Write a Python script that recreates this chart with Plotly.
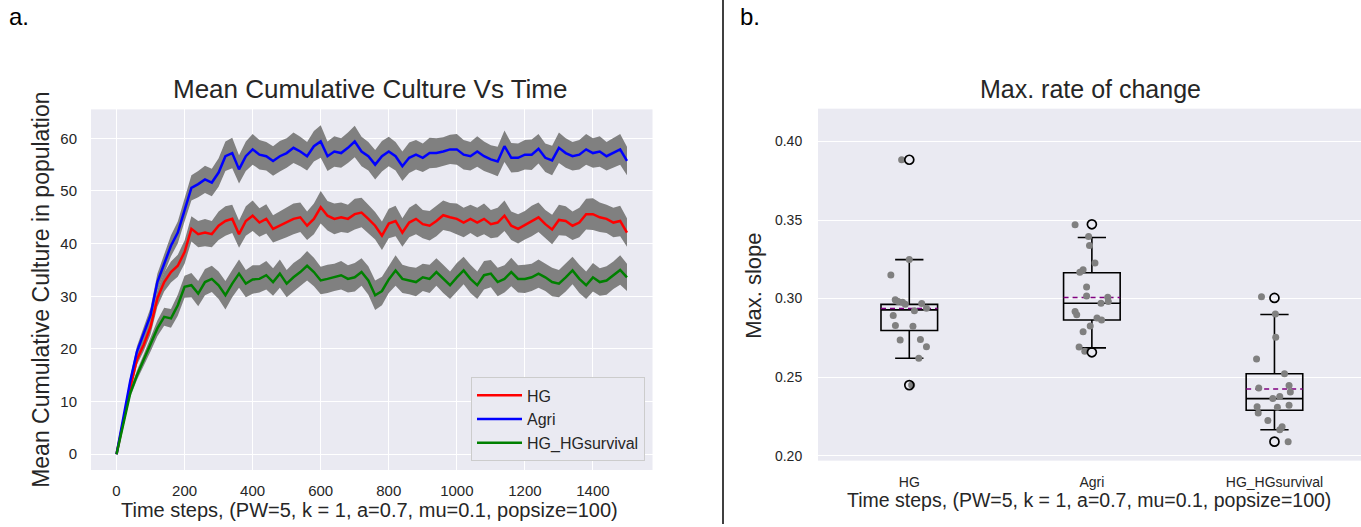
import plotly.graph_objects as go

# ---------------- data: left panel ----------------
time_steps = list(range(0, 1501, 20))

hg_mean = [0, 6.5, 12.5, 18.0, 20.8, 24.2, 29.6, 32.7, 34.6, 35.8, 38.4, 42.8, 41.8, 42.1, 41.8, 43.4,
           44.3, 44.7, 41.8, 44.3, 45.3, 44.0, 44.7, 42.8, 43.4, 44.0, 44.7, 45.0, 43.4, 44.7, 46.9,
           45.3, 44.7, 45.0, 44.7, 45.6, 45.9, 44.7, 43.4, 41.5, 43.8, 44.3, 42.1, 44.0, 44.7, 43.7,
           43.4, 44.3, 45.4, 45.0, 44.7, 44.0, 44.7, 44.0, 44.7, 43.7, 44.0, 45.3, 43.4, 42.8, 43.5,
           44.3, 45.0, 43.7, 42.7, 44.5, 44.3, 43.4, 44.0, 45.6, 45.6, 45.0, 44.7, 44.0, 44.3, 42.1]
agri_mean = [0, 6.9, 13.8, 19.5, 23.0, 26.4, 32.7, 36.2, 39.6, 42.1, 46.5, 50.6, 51.3, 52.2, 51.6, 53.5,
             56.6, 57.2, 54.1, 56.6, 57.9, 56.9, 56.6, 55.7, 56.6, 57.2, 58.2, 57.5, 56.6, 58.5, 59.4,
             56.6, 57.5, 57.2, 58.2, 59.4, 57.5, 56.6, 55.0, 56.6, 57.5, 56.6, 54.7, 56.3, 56.9, 56.3,
             57.2, 57.2, 57.5, 57.9, 57.9, 56.9, 56.6, 57.5, 56.6, 56.0, 55.6, 58.5, 56.3, 56.3, 56.9,
             56.9, 58.0, 56.3, 55.8, 58.2, 57.2, 56.6, 56.9, 57.9, 57.2, 57.5, 56.6, 57.2, 57.9, 55.7]
hgs_mean = [0, 6.0, 11.5, 15.0, 17.9, 20.8, 23.9, 26.1, 25.8, 28.3, 31.8, 32.1, 30.5, 32.7, 33.3, 32.1,
            30.2, 32.4, 34.3, 32.4, 33.2, 33.3, 34.0, 32.7, 34.3, 32.4, 33.6, 34.6, 35.8, 34.6, 33.0,
            33.3, 33.6, 34.0, 33.3, 33.6, 34.6, 33.0, 30.2, 31.0, 33.2, 34.9, 33.3, 33.0, 32.7, 33.6,
            33.3, 34.6, 33.3, 32.1, 33.6, 34.9, 33.3, 32.1, 34.0, 34.3, 32.7, 33.3, 34.6, 33.3, 33.3,
            33.6, 34.3, 33.6, 32.7, 32.4, 33.6, 34.9, 33.3, 32.1, 33.6, 32.7, 33.0, 34.0, 35.0, 33.6]

hg_err = [0, 0.5, 0.8, 1.0, 1.2, 1.4, 1.6, 1.8, 2.0, 2.1, 2.2, 2.4, 2.5, 2.6, 2.5, 2.7,
          2.8, 2.7, 2.6, 2.8, 2.9, 2.7, 2.8, 2.6, 2.7, 2.8, 2.9, 2.8, 2.7, 2.9, 3.1,
          2.8, 2.9, 2.8, 2.7, 2.9, 2.8, 2.7, 2.6, 2.7, 2.8, 2.9, 2.7, 2.8, 2.9, 2.7,
          2.8, 2.9, 2.8, 2.7, 2.9, 2.8, 2.7, 2.8, 2.9, 2.7, 2.8, 2.9, 2.7, 2.8, 2.7,
          2.9, 2.8, 2.7, 2.8, 2.9, 2.8, 2.7, 2.8, 2.9, 3.0, 2.8, 2.7, 2.8, 2.9, 2.7]
agri_err = [0, 0.5, 0.8, 1.0, 1.2, 1.4, 1.6, 1.8, 2.0, 2.1, 2.3, 2.4, 2.5, 2.6, 2.6, 2.7,
            2.8, 2.9, 2.7, 2.8, 2.9, 2.8, 2.7, 2.8, 2.9, 2.8, 2.9, 2.8, 2.7, 2.9, 3.1,
            2.8, 2.9, 2.8, 2.9, 3.0, 2.8, 2.7, 2.8, 2.9, 2.8, 2.7, 2.8, 2.9, 2.8, 2.7,
            2.9, 2.8, 2.7, 2.8, 2.9, 2.8, 2.7, 2.9, 2.8, 2.7, 2.8, 3.0, 2.8, 2.7, 2.8,
            2.9, 2.8, 2.7, 2.8, 2.9, 2.8, 2.7, 2.8, 2.9, 2.8, 2.9, 2.7, 2.8, 2.9, 2.7]
hgs_err = [0, 0.5, 0.7, 0.9, 1.1, 1.3, 1.5, 1.7, 1.8, 2.0, 2.1, 2.3, 2.4, 2.5, 2.5, 2.6,
           2.7, 2.6, 2.7, 2.6, 2.7, 2.6, 2.7, 2.6, 2.7, 2.6, 2.7, 2.6, 2.8, 2.7, 2.6,
           2.7, 2.6, 2.7, 2.6, 2.7, 2.6, 2.7, 2.8, 2.7, 2.6, 2.9, 2.7, 2.6, 2.7, 2.6,
           2.7, 2.6, 2.7, 2.6, 2.7, 2.6, 2.7, 2.6, 2.7, 2.6, 2.7, 2.6, 2.7, 2.6, 2.7,
           2.6, 2.7, 2.6, 2.7, 2.6, 2.7, 2.6, 2.7, 2.6, 2.7, 2.6, 2.7, 2.6, 2.8, 2.6]

series_names = ["HG", "Agri", "HG_HGsurvival"]
series_colors = ["red", "blue", "green"]

x_ticks_left = [0, 200, 400, 600, 800, 1000, 1200, 1400]
y_ticks_left = [0, 10, 20, 30, 40, 50, 60]

# ---------------- data: right panel ----------------
categories = ["HG", "Agri", "HG_HGsurvival"]
box_q1 = [0.2797, 0.2864, 0.2289]
box_median = [0.2928, 0.2970, 0.2363]
box_q3 = [0.2963, 0.3164, 0.2521]
box_low = [0.2620, 0.2686, 0.2165]
box_high = [0.3248, 0.3389, 0.2899]
box_mean = [0.2937, 0.3007, 0.2424]

hg_pts = [0.3884, 0.3249, 0.3150, 0.2992, 0.2981, 0.2977, 0.2964, 0.2968, 0.2939, 0.2922,
          0.2892, 0.2829, 0.2823, 0.2736, 0.2740, 0.2694, 0.2620, 0.2449]
hg_jit = [-0.042, 0.0, -0.101, -0.077, -0.061, -0.037, -0.022, 0.068, 0.094, 0.028,
          -0.088, -0.076, 0.020, -0.050, 0.061, 0.094, 0.052, 0.013]
agri_pts = [0.3470, 0.3395, 0.3338, 0.3226, 0.3167, 0.3184, 0.3074, 0.3017, 0.3008, 0.2981,
            0.2970, 0.2918, 0.2897, 0.2876, 0.2863, 0.2825, 0.2789, 0.2692, 0.2665]
agri_jit = [-0.092, -0.018, -0.013, 0.017, -0.066, -0.048, -0.029, -0.029, 0.087, 0.090,
            0.050, -0.092, -0.083, 0.028, 0.053, -0.009, -0.048, -0.070, -0.039]
hgs_pts = [0.3011, 0.2901, 0.2753, 0.2616, 0.2521, 0.2430, 0.2447, 0.2405, 0.2363, 0.2376,
           0.2321, 0.2312, 0.2308, 0.2272, 0.2224, 0.2184, 0.2165, 0.2089]
hgs_jit = [-0.071, 0.005, 0.007, -0.098, 0.055, -0.086, 0.080, 0.087, -0.009, 0.029,
           0.080, -0.095, 0.016, -0.089, -0.036, 0.042, 0.029, 0.075]

outlier_cat = [0, 0, 1, 1, 2, 2]
outlier_vals = [0.3884, 0.2449, 0.3473, 0.2658, 0.3004, 0.2089]

y_ticks_right = [0.20, 0.25, 0.30, 0.35, 0.40]

# ---------------- figure ----------------
W, H = 1361, 527
FONT = "Liberation Sans, Arial, sans-serif"
TXT = "#262626"
BG = "#EAEAF2"

fig = go.Figure()

means = [hg_mean, agri_mean, hgs_mean]
errs = [hg_err, agri_err, hgs_err]

# error bands
for m, e in zip(means, errs):
    upper = [a + b for a, b in zip(m, e)]
    lower = [a - b for a, b in zip(m, e)]
    fig.add_trace(go.Scatter(
        x=time_steps + time_steps[::-1], y=upper + lower[::-1],
        fill="toself", fillcolor="#808080", line=dict(width=0, color="#808080"),
        mode="lines", showlegend=False, hoverinfo="skip", xaxis="x", yaxis="y"))

# mean lines
for i, (m, name, col) in enumerate(zip(means, series_names, series_colors)):
    fig.add_trace(go.Scatter(
        x=time_steps, y=m, mode="lines", name=name,
        line=dict(color=col, width=2.5), xaxis="x", yaxis="y"))

# right panel: boxes
cat_pos = [0, 1, 2]
fig.add_trace(go.Box(
    x=cat_pos, q1=box_q1, median=box_median, q3=box_q3,
    lowerfence=box_low, upperfence=box_high,
    boxpoints=False, width=0.31, whiskerwidth=0.5,
    line=dict(color="black", width=1.6), fillcolor="rgba(0,0,0,0)",
    showlegend=False, xaxis="x2", yaxis="y2"))

# mean dashed lines
half_w = 0.155
for c, mval in zip(cat_pos, box_mean):
    fig.add_trace(go.Scatter(
        x=[c - half_w, c + half_w], y=[mval, mval], mode="lines",
        line=dict(color="purple", width=1.6, dash="5px,4px"),
        showlegend=False, hoverinfo="skip", xaxis="x2", yaxis="y2"))

# jittered points
for c, pts, jit in zip(cat_pos, [hg_pts, agri_pts, hgs_pts], [hg_jit, agri_jit, hgs_jit]):
    fig.add_trace(go.Scatter(
        x=[c + j for j in jit], y=pts, mode="markers",
        marker=dict(color="#808080", size=7, line=dict(width=0)),
        showlegend=False, xaxis="x2", yaxis="y2"))

# outliers
fig.add_trace(go.Scatter(
    x=outlier_cat, y=outlier_vals, mode="markers",
    marker=dict(symbol="circle-open", color="black", size=9, line=dict(width=1.7)),
    showlegend=False, xaxis="x2", yaxis="y2"))


def px(x):
    return x / W


def py(y):
    return 1 - y / H


axis_common = dict(showgrid=True, gridcolor="white", gridwidth=1.2, zeroline=False,
                   showline=False, ticks="outside", tickcolor="rgba(0,0,0,0)",
                   tickfont=dict(family=FONT, color=TXT))

fig.update_layout(
    width=W, height=H, margin=dict(l=0, r=0, t=0, b=0, pad=0),
    paper_bgcolor="white", plot_bgcolor=BG, boxmode="overlay",
    font=dict(family=FONT, color=TXT),
    xaxis=dict(domain=[px(91), px(652.5)], range=[-75, 1575], tickvals=x_ticks_left,
               ticklen=7, anchor="y", **axis_common),
    yaxis=dict(domain=[py(472.7), py(110)], range=[-3.0, 65.5], tickvals=y_ticks_left,
               ticklen=10, anchor="x", **axis_common),
    xaxis2=dict(domain=[px(818), 1.0], range=[-0.5, 2.474], tickvals=cat_pos,
                ticktext=categories, ticklen=9, anchor="y2",
                **{**axis_common, "showgrid": False}),
    yaxis2=dict(domain=[py(463.3), py(109.3)], range=[0.1968, 0.4209], tickvals=y_ticks_right,
                tickformat=".2f", ticklen=12, anchor="x2", **axis_common),
    legend=dict(x=px(645), y=py(464), xanchor="right", yanchor="bottom",
                bgcolor=BG, bordercolor="#CCCCCC", borderwidth=1, itemwidth=45,
                font=dict(family=FONT, size=16, color=TXT), tracegroupgap=0),
)
fig.layout.xaxis.tickfont.size = 15
fig.layout.yaxis.tickfont.size = 15
fig.layout.xaxis2.tickfont.size = 14
fig.layout.yaxis2.tickfont.size = 14

ann = [
    dict(text="Mean Cumulative Culture Vs Time", x=px(370), y=py(90), size=26, angle=0),
    dict(text="Max. rate of change", x=px(1090), y=py(90), size=25, angle=0),
    dict(text="Time steps, (PW=5, k = 1, a=0.7, mu=0.1, popsize=100)", x=px(369.5), y=py(513), size=20, angle=0),
    dict(text="Time steps, (PW=5, k = 1, a=0.7, mu=0.1, popsize=100)", x=px(1089), y=py(503), size=19.5, angle=0),
    dict(text="Mean Cumulative Culture in population", x=px(41), y=py(291.5), size=23, angle=-90),
    dict(text="Max. slope", x=px(754), y=py(287.5), size=22, angle=-90),
    dict(text="a.", x=px(19), y=py(17), size=24, angle=0),
    dict(text="b.", x=px(750), y=py(17), size=24, angle=0),
]
for a in ann:
    fig.add_annotation(text=a["text"], x=a["x"], y=a["y"], xref="paper", yref="paper",
                       xanchor="center", yanchor="middle", showarrow=False, textangle=a["angle"],
                       font=dict(family=FONT, size=a["size"], color="black" if a["text"] in ("a.", "b.") else TXT))

fig.add_shape(type="line", xref="paper", yref="paper", x0=px(723), x1=px(723), y0=0, y1=1,
              line=dict(color="black", width=1.5))

fig.write_html("out.html")
